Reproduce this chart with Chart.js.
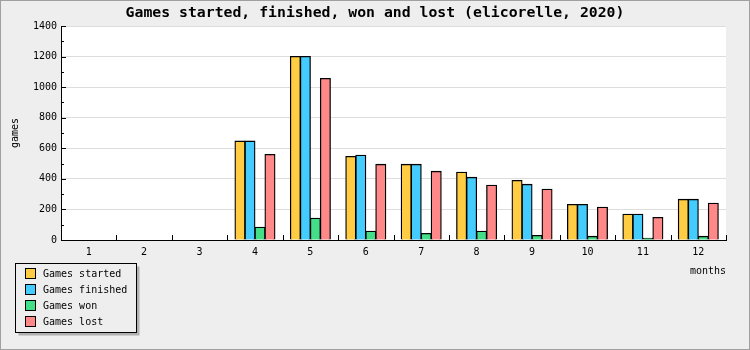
<!DOCTYPE html>
<html>
<head>
<meta charset="utf-8">
<script src="https://cdn.jsdelivr.net/npm/chart.js@4/dist/chart.umd.min.js"></script>
<style>
  html, body { margin: 0; padding: 0; background: #eeeeee; }
  #wrap { width: 750px; height: 350px; position: relative; }
</style>
</head>
<body>
<div id="wrap"><canvas id="c" width="750" height="350"></canvas></div>
<script>
const TITLE = 'Games started, finished, won and lost (elicorelle, 2020)';
const Y_LABEL = 'games';
const X_LABEL = 'months';
const months = ['1', '2', '3', '4', '5', '6', '7', '8', '9', '10', '11', '12'];
const seriesNames = ['Games started', 'Games finished', 'Games won', 'Games lost'];
const started  = [0, 0, 0, 647, 1200, 547, 495, 443, 390, 233, 168, 266];
const finished = [0, 0, 0, 647, 1200, 554, 495, 410, 364, 233, 168, 266];
const won      = [0, 0, 0,  83,  142,  57,  43,  57,  30,  24,  11,  24];
const lost     = [0, 0, 0, 560, 1057, 495, 449, 358, 332, 214, 148, 241];
const colors = ['#ffcc44', '#44ccff', '#44dd88', '#ff8888'];
const Y_MAX = 1400;
const Y_STEP = 200;
const Y_MINOR = 100;

const MONO = '"DejaVu Sans Mono", "Liberation Mono", monospace';

const decor = {
  id: 'decor',
  beforeDraw(chart) {
    const ctx = chart.ctx;
    const a = chart.chartArea;
    ctx.save();
    ctx.fillStyle = '#eeeeee';
    ctx.fillRect(0, 0, chart.width, chart.height);
    ctx.strokeStyle = '#a0a0a0';
    ctx.lineWidth = 1;
    ctx.strokeRect(0.5, 0.5, chart.width - 1, chart.height - 1);
    ctx.fillStyle = '#ffffff';
    ctx.fillRect(a.left, a.top, a.right - a.left, a.bottom - a.top);
    ctx.restore();
  },
  afterDraw(chart) {
    const ctx = chart.ctx;
    const a = chart.chartArea;
    const ys = chart.scales.y;
    const xs = chart.scales.x;
    ctx.save();
    // title
    ctx.fillStyle = '#000';
    ctx.font = 'bold 14.8px ' + MONO;
    ctx.textAlign = 'center';
    ctx.textBaseline = 'alphabetic';
    ctx.fillText(TITLE, chart.width / 2, 17);
    // y inward ticks
    ctx.strokeStyle = '#000';
    ctx.lineWidth = 1;
    ctx.beginPath();
    for (let v = 0; v <= Y_MAX; v += Y_MINOR) {
      const y = Math.round(ys.getPixelForValue(v)) + 0.5;
      const len = (v % Y_STEP === 0) ? 5 : 3;
      ctx.moveTo(a.left, y);
      ctx.lineTo(a.left + len, y);
    }
    // x inward ticks at category boundaries
    for (let i = 0; i <= months.length; i++) {
      const x = Math.round(xs.getPixelForValue(i - 0.5)) + 0.5;
      ctx.moveTo(x, a.bottom);
      ctx.lineTo(x, a.bottom - 5);
    }
    ctx.stroke();
    // axis titles
    ctx.font = '10px ' + MONO;
    ctx.fillStyle = '#000';
    ctx.textAlign = 'right';
    ctx.textBaseline = 'middle';
    ctx.fillText(X_LABEL, a.right, 271);
    ctx.save();
    ctx.translate(15, (a.top + a.bottom) / 2);
    ctx.rotate(-Math.PI / 2);
    ctx.textAlign = 'center';
    ctx.fillText(Y_LABEL, 0, 0);
    ctx.restore();
    // legend
    const lx = 15.5, ly = 263.5, lw = 121, lh = 69;
    ctx.fillStyle = '#b0b0b0';
    ctx.fillRect(lx + 3, ly + 3, lw, lh);
    ctx.fillStyle = '#eeeeee';
    ctx.fillRect(lx, ly, lw, lh);
    ctx.strokeStyle = '#000';
    ctx.strokeRect(lx, ly, lw, lh);
    chart.data.datasets.forEach((ds, i) => {
      const cy = 274 + i * 16;
      ctx.fillStyle = ds.backgroundColor;
      ctx.fillRect(25.5, cy - 5.5, 10, 10);
      ctx.strokeStyle = '#000';
      ctx.strokeRect(25.5, cy - 5.5, 10, 10);
      ctx.fillStyle = '#000';
      ctx.textAlign = 'left';
      ctx.textBaseline = 'middle';
      ctx.font = '10px ' + MONO;
      ctx.fillText(ds.label, 43, cy);
    });
    ctx.restore();
  }
};

const seriesData = [started, finished, won, lost];
new Chart(document.getElementById('c'), {
  type: 'bar',
  data: {
    labels: months,
    datasets: seriesNames.map((name, i) => ({
      label: name,
      data: seriesData[i],
      backgroundColor: colors[i],
      borderColor: '#000000',
      borderWidth: 1.3,
      inflateAmount: 0.5,
      barPercentage: 1,
      categoryPercentage: 0.722
    }))
  },
  options: {
    responsive: false,
    animation: false,
    devicePixelRatio: 1,
    layout: { padding: { top: 26, left: 0, right: 24, bottom: 0 } },
    plugins: { legend: { display: false }, title: { display: false }, tooltip: { enabled: false } },
    scales: {
      x: {
        grid: { display: false, drawTicks: false },
        border: { display: true, color: '#000', width: 1 },
        ticks: { color: '#000', font: { family: MONO, size: 10 }, padding: 6, maxRotation: 0, autoSkip: false },
        afterFit(s) { s.height = 110; }
      },
      y: {
        min: 0, max: Y_MAX,
        grid: { color: '#dddddd', lineWidth: 1, drawTicks: false },
        border: { display: true, color: '#000', width: 1 },
        ticks: { stepSize: Y_STEP, color: '#000', font: { family: MONO, size: 10 }, padding: 4,
                 callback: (v) => String(v) },
        afterFit(s) { s.width = 61; }
      }
    }
  },
  plugins: [decor]
});
</script>
</body>
</html>
